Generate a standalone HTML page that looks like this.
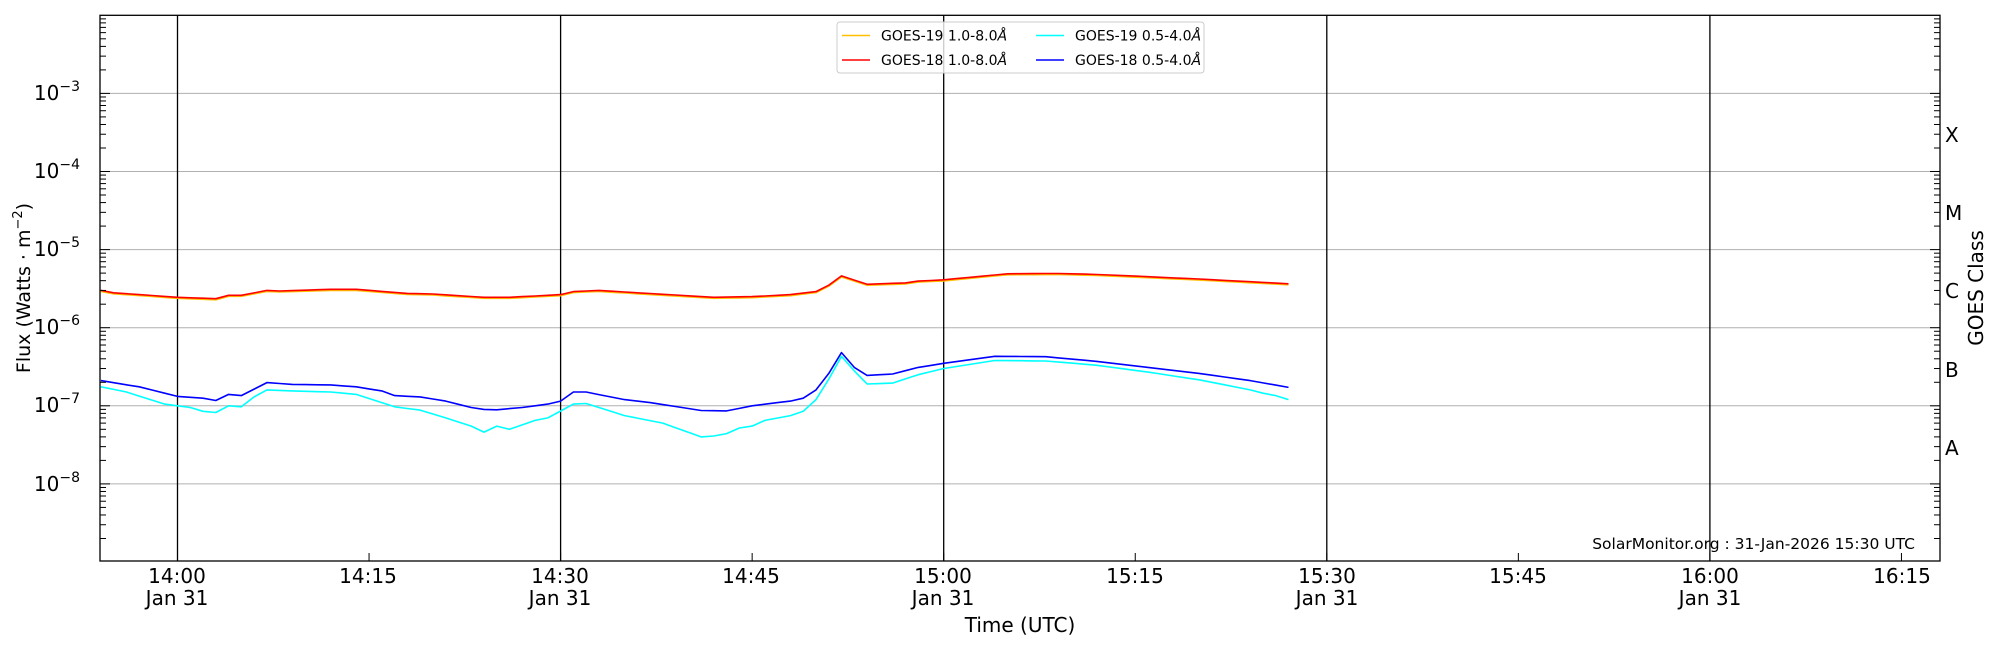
<!DOCTYPE html>
<html><head><meta charset="utf-8"><style>
html,body{margin:0;padding:0;background:#fff;}
svg{display:block;font-family:"DejaVu Sans","Liberation Sans",sans-serif;}
</style></head><body>
<svg id="s" width="2000" height="650" viewBox="0 0 2000 650" xmlns="http://www.w3.org/2000/svg">
<rect width="2000" height="650" fill="#fff"/>
<g id="grid"></g>
<g id="data" fill="none" stroke-width="1.6" stroke-linejoin="round"></g>
<g id="ticks" stroke="#000" stroke-width="1"></g>
<rect x="100" y="15.3" width="1840" height="545.7" fill="none" stroke="#000" stroke-width="1.3"/>
<!-- y tick labels -->
<g font-size="20" text-anchor="end" fill="#000">
<text x="80" y="100">10<tspan dy="-9" font-size="14">−3</tspan></text>
<text x="80" y="178">10<tspan dy="-9" font-size="14">−4</tspan></text>
<text x="80" y="256">10<tspan dy="-9" font-size="14">−5</tspan></text>
<text x="80" y="334">10<tspan dy="-9" font-size="14">−6</tspan></text>
<text x="80" y="412">10<tspan dy="-9" font-size="14">−7</tspan></text>
<text x="80" y="491">10<tspan dy="-9" font-size="14">−8</tspan></text>
</g>
<text transform="translate(30,288) rotate(-90)" font-size="19" text-anchor="middle">Flux (Watts · m<tspan dy="-8" font-size="13">−2</tspan><tspan dy="8">)</tspan></text>
<!-- x labels -->
<g font-size="20" text-anchor="middle">
<text x="177" y="583">14:00</text><text x="177" y="605">Jan 31</text>
<text x="368" y="583">14:15</text>
<text x="560" y="583">14:30</text><text x="560" y="605">Jan 31</text>
<text x="751" y="583">14:45</text>
<text x="943" y="583">15:00</text><text x="943" y="605">Jan 31</text>
<text x="1135" y="583">15:15</text>
<text x="1327" y="583">15:30</text><text x="1327" y="605">Jan 31</text>
<text x="1518" y="583">15:45</text>
<text x="1710" y="583">16:00</text><text x="1710" y="605">Jan 31</text>
<text x="1902" y="583">16:15</text>
</g>
<text x="1020" y="632" font-size="20" text-anchor="middle">Time (UTC)</text>
<!-- class labels -->
<g font-size="20">
<text x="1945" y="142">X</text><text x="1945" y="220">M</text><text x="1945" y="298">C</text><text x="1945" y="377">B</text><text x="1945" y="455">A</text>
</g>
<text transform="translate(1983,288) rotate(-90)" font-size="20" text-anchor="middle">GOES Class</text>
<text x="1915" y="549" font-size="15.5" text-anchor="end">SolarMonitor.org : 31-Jan-2026 15:30 UTC</text>
<!-- legend -->
<rect x="837" y="22" width="367" height="51" rx="3" fill="#fff" fill-opacity="0.8" stroke="#ccc"/>
<g font-size="14">
<line x1="842" y1="35.5" x2="870" y2="35.5" stroke="#ffc000" stroke-width="1.5"/>
<text x="881" y="40.5">GOES-19 1.0-8.0<tspan font-style="italic">Å</tspan></text>
<line x1="842" y1="60" x2="870" y2="60" stroke="#ff0000" stroke-width="1.5"/>
<text x="881" y="65">GOES-18 1.0-8.0<tspan font-style="italic">Å</tspan></text>
<line x1="1036" y1="35.5" x2="1064" y2="35.5" stroke="#00ffff" stroke-width="1.5"/>
<text x="1075" y="40.5">GOES-19 0.5-4.0<tspan font-style="italic">Å</tspan></text>
<line x1="1036" y1="60" x2="1064" y2="60" stroke="#0000ff" stroke-width="1.5"/>
<text x="1075" y="65">GOES-18 0.5-4.0<tspan font-style="italic">Å</tspan></text>
</g>
</svg>
<script>
(function(){
var NS="http://www.w3.org/2000/svg";
function el(p,t,a){var e=document.createElementNS(NS,t);for(var k in a)e.setAttribute(k,a[k]);p.appendChild(e);return e;}
function Y(v){return 15.3+(-2-Math.log10(v))*78.1;}
function X(m){return 177.5+m*12.77;}
var grid=document.getElementById('grid'),ticks=document.getElementById('ticks'),data=document.getElementById('data');
for(var d=-3;d>=-8;d--){var y=Y(Math.pow(10,d));el(grid,'line',{x1:100,x2:1940,y1:y,y2:y,stroke:'#b0b0b0','stroke-width':1});}
[0,30,60,90,120].forEach(function(m){el(grid,'line',{x1:X(m),x2:X(m),y1:15.3,y2:561,stroke:'#000','stroke-width':1.3});});
for(var d=-9;d<-2;d++){for(var k=1;k<10;k++){var v=k*Math.pow(10,d);var y=Y(v);if(y<15.3||y>561)continue;var L=k==1?10:6;
el(ticks,'line',{x1:100,x2:100+L,y1:y,y2:y});el(ticks,'line',{x1:1940-L,x2:1940,y1:y,y2:y});}}
for(var m=0;m<=135;m+=15){var x=X(m);el(ticks,'line',{x1:x,x2:x,y1:561,y2:553});}
function interp(pts){var out=[];for(var i=0;i<pts.length-1;i++){var a=pts[i],b=pts[i+1];for(var m=a[0];m<b[0];m++){var t=(m-a[0])/(b[0]-a[0]);out.push([m,Math.exp(Math.log(a[1])*(1-t)+Math.log(b[1])*t)]);}}out.push(pts[pts.length-1]);return out;}
function draw(pts,col,f){var p=interp(pts);var s='';p.forEach(function(q,i){s+=(i?'L':'M')+X(q[0]).toFixed(1)+','+Y(q[1]*(f||1)).toFixed(1);});el(data,'path',{d:s,stroke:col});}
var red=[[-6,3e-6],[-5,2.8e-6],[0,2.45e-6],[3,2.35e-6],[4,2.6e-6],[5,2.6e-6],[7,3e-6],[8,2.95e-6],[12,3.1e-6],[14,3.1e-6],[18,2.75e-6],[20,2.7e-6],[24,2.45e-6],[26,2.45e-6],[30,2.65e-6],[31,2.9e-6],[33,3e-6],[36,2.8e-6],[42,2.45e-6],[45,2.5e-6],[48,2.65e-6],[50,2.9e-6],[51,3.5e-6],[52,4.6e-6],[54,3.6e-6],[57,3.75e-6],[58,3.95e-6],[60,4.1e-6],[65,4.9e-6],[69,4.95e-6],[72,4.8e-6],[76,4.5e-6],[80,4.2e-6],[87,3.65e-6]];
var cyan=[[-6,1.75e-7],[-4,1.5e-7],[-1,1.05e-7],[0,1e-7],[1,0.95e-7],[2,0.85e-7],[3,0.82e-7],[4,1e-7],[5,0.97e-7],[6,1.3e-7],[7,1.6e-7],[9,1.55e-7],[12,1.5e-7],[14,1.4e-7],[16,1.1e-7],[17,0.97e-7],[19,0.88e-7],[21,0.7e-7],[23,0.55e-7],[24,0.46e-7],[25,0.55e-7],[26,0.5e-7],[28,0.65e-7],[29,0.7e-7],[31,1.05e-7],[32,1.07e-7],[35,0.75e-7],[38,0.6e-7],[41,0.4e-7],[42,0.41e-7],[43,0.44e-7],[44,0.52e-7],[45,0.55e-7],[46,0.65e-7],[48,0.75e-7],[49,0.85e-7],[50,1.2e-7],[51,2.2e-7],[52,4.3e-7],[53,2.8e-7],[54,1.9e-7],[56,1.95e-7],[58,2.5e-7],[60,3e-7],[64,3.8e-7],[68,3.75e-7],[72,3.3e-7],[76,2.7e-7],[80,2.15e-7],[84,1.6e-7],[85,1.45e-7],[86,1.35e-7],[87,1.2e-7]];
var blue=[[-6,2.1e-7],[-3,1.75e-7],[-1,1.45e-7],[0,1.32e-7],[2,1.25e-7],[3,1.17e-7],[4,1.4e-7],[5,1.35e-7],[7,1.98e-7],[9,1.88e-7],[12,1.85e-7],[14,1.75e-7],[16,1.55e-7],[17,1.35e-7],[19,1.3e-7],[21,1.15e-7],[23,0.95e-7],[24,0.9e-7],[25,0.89e-7],[27,0.95e-7],[29,1.05e-7],[30,1.15e-7],[31,1.5e-7],[32,1.5e-7],[35,1.2e-7],[37,1.1e-7],[41,0.87e-7],[43,0.86e-7],[45,1e-7],[48,1.15e-7],[49,1.25e-7],[50,1.6e-7],[51,2.6e-7],[52,4.8e-7],[53,3.1e-7],[54,2.45e-7],[56,2.55e-7],[58,3.1e-7],[60,3.5e-7],[64,4.3e-7],[68,4.25e-7],[72,3.7e-7],[76,3.1e-7],[80,2.6e-7],[84,2.1e-7],[87,1.72e-7]];
draw(red,'#ffc000',0.97);
draw(red,'#ff0000');
draw(cyan,'#00ffff');
draw(blue,'#0000ff');
})();
</script>
</body></html>
